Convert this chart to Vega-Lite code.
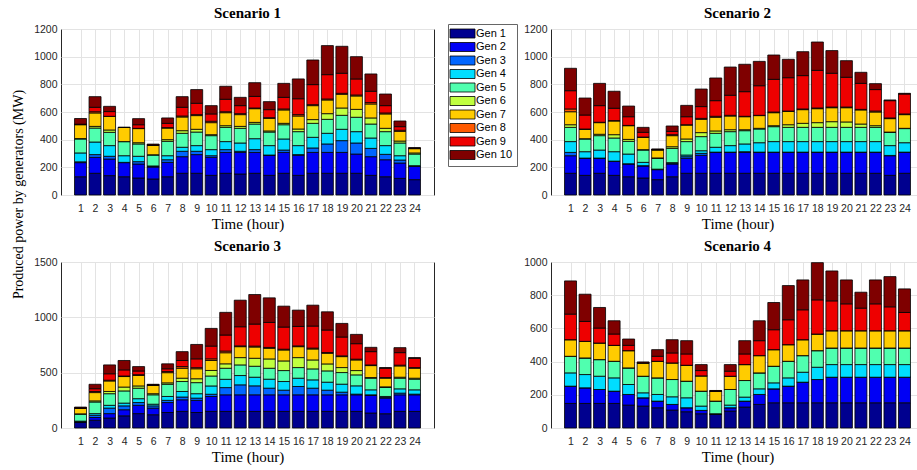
{
"$schema":"https://vega.github.io/schema/vega-lite/v6.json",
"padding":{"left":10,"top":5,"right":0,"bottom":0},
"background":"white",
"datasets":{
"gens":[{"key":"g1","gen":"Gen 1","idx":1},{"key":"g2","gen":"Gen 2","idx":2},{"key":"g3","gen":"Gen 3","idx":3},{"key":"g4","gen":"Gen 4","idx":4},{"key":"g5","gen":"Gen 5","idx":5},{"key":"g6","gen":"Gen 6","idx":6},{"key":"g7","gen":"Gen 7","idx":7},{"key":"g8","gen":"Gen 8","idx":8},{"key":"g9","gen":"Gen 9","idx":9},{"key":"g10","gen":"Gen 10","idx":10}],
"main":[
{"s":1,"h":1,"g1":132,"g2":102,"g3":6,"g4":64,"g5":101,"g6":3,"g7":100,"g8":2,"g9":2,"g10":41},
{"s":1,"h":2,"g1":157,"g2":115,"g3":20,"g4":91,"g5":101,"g6":12,"g7":97,"g8":9,"g9":32,"g10":77},
{"s":1,"h":3,"g1":140,"g2":120,"g3":20,"g4":77,"g5":96,"g6":17,"g7":99,"g8":0,"g9":34,"g10":38},
{"s":1,"h":4,"g1":132,"g2":102,"g3":2,"g4":48,"g5":102,"g6":0,"g7":102,"g8":0,"g9":0,"g10":2},
{"s":1,"h":5,"g1":123,"g2":101,"g3":17,"g4":39,"g5":89,"g6":9,"g7":102,"g8":2,"g9":26,"g10":44},
{"s":1,"h":6,"g1":116,"g2":86,"g3":6,"g4":2,"g5":79,"g6":2,"g7":68,"g8":2,"g9":1,"g10":6},
{"s":1,"h":7,"g1":132,"g2":104,"g3":19,"g4":29,"g5":104,"g6":12,"g7":84,"g8":3,"g9":31,"g10":39},
{"s":1,"h":8,"g1":157,"g2":120,"g3":39,"g4":29,"g5":101,"g6":19,"g7":99,"g8":7,"g9":63,"g10":77},
{"s":1,"h":9,"g1":157,"g2":135,"g3":24,"g4":41,"g5":98,"g6":20,"g7":99,"g8":7,"g9":82,"g10":99},
{"s":1,"h":10,"g1":142,"g2":130,"g3":12,"g4":44,"g5":101,"g6":7,"g7":87,"g8":10,"g9":53,"g10":60},
{"s":1,"h":11,"g1":157,"g2":151,"g3":20,"g4":58,"g5":103,"g6":12,"g7":94,"g8":7,"g9":90,"g10":94},
{"s":1,"h":12,"g1":152,"g2":156,"g3":8,"g4":60,"g5":106,"g6":14,"g7":85,"g8":7,"g9":58,"g10":60},
{"s":1,"h":13,"g1":157,"g2":151,"g3":20,"g4":79,"g5":106,"g6":12,"g7":99,"g8":5,"g9":84,"g10":99},
{"s":1,"h":14,"g1":142,"g2":145,"g3":2,"g4":68,"g5":98,"g6":8,"g7":91,"g8":5,"g9":58,"g10":58},
{"s":1,"h":15,"g1":157,"g2":151,"g3":17,"g4":80,"g5":103,"g6":10,"g7":97,"g8":7,"g9":84,"g10":101},
{"s":1,"h":16,"g1":142,"g2":145,"g3":5,"g4":65,"g5":101,"g6":19,"g7":94,"g8":10,"g9":115,"g10":143},
{"s":1,"h":17,"g1":157,"g2":151,"g3":32,"g4":77,"g5":101,"g6":27,"g7":101,"g8":7,"g9":145,"g10":178},
{"s":1,"h":18,"g1":157,"g2":151,"g3":61,"g4":77,"g5":101,"g6":41,"g7":99,"g8":7,"g9":176,"g10":210},
{"s":1,"h":19,"g1":157,"g2":151,"g3":85,"g4":82,"g5":101,"g6":53,"g7":99,"g8":7,"g9":145,"g10":195},
{"s":1,"h":20,"g1":157,"g2":139,"g3":80,"g4":82,"g5":104,"g6":57,"g7":97,"g8":7,"g9":116,"g10":161},
{"s":1,"h":21,"g1":142,"g2":135,"g3":60,"g4":75,"g5":101,"g6":44,"g7":101,"g8":10,"g9":82,"g10":125},
{"s":1,"h":22,"g1":132,"g2":123,"g3":39,"g4":63,"g5":101,"g6":24,"g7":104,"g8":7,"g9":53,"g10":84},
{"s":1,"h":23,"g1":120,"g2":111,"g3":22,"g4":31,"g5":92,"g6":14,"g7":70,"g8":8,"g9":26,"g10":41},
{"s":1,"h":24,"g1":111,"g2":96,"g3":1,"g4":4,"g5":84,"g6":8,"g7":31,"g8":2,"g9":2,"g10":3},
{"s":2,"h":1,"g1":157,"g2":127,"g3":24,"g4":78,"g5":103,"g6":19,"g7":94,"g8":20,"g9":132,"g10":162},
{"s":2,"h":2,"g1":142,"g2":123,"g3":2,"g4":46,"g5":92,"g6":2,"g7":68,"g8":2,"g9":101,"g10":123},
{"s":2,"h":3,"g1":157,"g2":108,"g3":2,"g4":58,"g5":104,"g6":10,"g7":84,"g8":3,"g9":120,"g10":161},
{"s":2,"h":4,"g1":142,"g2":101,"g3":2,"g4":68,"g5":99,"g6":24,"g7":99,"g8":3,"g9":89,"g10":123},
{"s":2,"h":5,"g1":132,"g2":92,"g3":2,"g4":70,"g5":92,"g6":14,"g7":99,"g8":2,"g9":63,"g10":77},
{"s":2,"h":6,"g1":123,"g2":87,"g3":2,"g4":24,"g5":89,"g6":3,"g7":89,"g8":2,"g9":34,"g10":36},
{"s":2,"h":7,"g1":111,"g2":72,"g3":2,"g4":2,"g5":78,"g6":3,"g7":57,"g8":2,"g9":2,"g10":4},
{"s":2,"h":8,"g1":132,"g2":92,"g3":5,"g4":5,"g5":103,"g6":12,"g7":80,"g8":7,"g9":24,"g10":39},
{"s":2,"h":9,"g1":157,"g2":108,"g3":12,"g4":12,"g5":97,"g6":19,"g7":101,"g8":2,"g9":58,"g10":82},
{"s":2,"h":10,"g1":157,"g2":130,"g3":14,"g4":19,"g5":102,"g6":29,"g7":96,"g8":7,"g9":85,"g10":127},
{"s":2,"h":11,"g1":157,"g2":151,"g3":2,"g4":35,"g5":101,"g6":17,"g7":99,"g8":7,"g9":113,"g10":164},
{"s":2,"h":12,"g1":157,"g2":151,"g3":2,"g4":47,"g5":101,"g6":14,"g7":99,"g8":5,"g9":145,"g10":204},
{"s":2,"h":13,"g1":157,"g2":151,"g3":5,"g4":56,"g5":96,"g6":7,"g7":94,"g8":3,"g9":178,"g10":198},
{"s":2,"h":14,"g1":157,"g2":151,"g3":2,"g4":68,"g5":99,"g6":5,"g7":92,"g8":2,"g9":214,"g10":176},
{"s":2,"h":15,"g1":157,"g2":151,"g3":2,"g4":76,"g5":108,"g6":7,"g7":94,"g8":5,"g9":236,"g10":176},
{"s":2,"h":16,"g1":157,"g2":151,"g3":2,"g4":76,"g5":103,"g6":19,"g7":97,"g8":2,"g9":241,"g10":133},
{"s":2,"h":17,"g1":157,"g2":151,"g3":2,"g4":76,"g5":103,"g6":29,"g7":99,"g8":5,"g9":241,"g10":173},
{"s":2,"h":18,"g1":157,"g2":151,"g3":2,"g4":76,"g5":103,"g6":34,"g7":101,"g8":5,"g9":272,"g10":205},
{"s":2,"h":19,"g1":157,"g2":151,"g3":2,"g4":76,"g5":103,"g6":41,"g7":101,"g8":5,"g9":244,"g10":164},
{"s":2,"h":20,"g1":157,"g2":151,"g3":2,"g4":76,"g5":103,"g6":39,"g7":103,"g8":5,"g9":215,"g10":120},
{"s":2,"h":21,"g1":157,"g2":151,"g3":2,"g4":76,"g5":103,"g6":24,"g7":102,"g8":4,"g9":188,"g10":80},
{"s":2,"h":22,"g1":157,"g2":151,"g3":2,"g4":76,"g5":103,"g6":12,"g7":99,"g8":7,"g9":155,"g10":43},
{"s":2,"h":23,"g1":142,"g2":142,"g3":2,"g4":71,"g5":96,"g6":2,"g7":97,"g8":5,"g9":125,"g10":5},
{"s":2,"h":24,"g1":157,"g2":151,"g3":2,"g4":68,"g5":102,"g6":2,"g7":99,"g8":5,"g9":144,"g10":5},
{"s":3,"h":1,"g1":50,"g2":5,"g3":3,"g4":4,"g5":63,"g6":3,"g7":50,"g8":2,"g9":2,"g10":7},
{"s":3,"h":2,"g1":70,"g2":25,"g3":20,"g4":15,"g5":105,"g6":10,"g7":75,"g8":10,"g9":25,"g10":40},
{"s":3,"h":3,"g1":90,"g2":40,"g3":50,"g4":25,"g5":105,"g6":20,"g7":95,"g8":7,"g9":58,"g10":80},
{"s":3,"h":4,"g1":110,"g2":55,"g3":35,"g4":25,"g5":110,"g6":35,"g7":95,"g8":5,"g9":55,"g10":85},
{"s":3,"h":5,"g1":130,"g2":75,"g3":25,"g4":35,"g5":95,"g6":20,"g7":95,"g8":7,"g9":33,"g10":40},
{"s":3,"h":6,"g1":120,"g2":60,"g3":20,"g4":15,"g5":85,"g6":10,"g7":75,"g8":3,"g9":2,"g10":5},
{"s":3,"h":7,"g1":140,"g2":90,"g3":20,"g4":35,"g5":110,"g6":13,"g7":92,"g8":10,"g9":25,"g10":45},
{"s":3,"h":8,"g1":150,"g2":105,"g3":25,"g4":50,"g5":90,"g6":30,"g7":90,"g8":15,"g9":55,"g10":80},
{"s":3,"h":9,"g1":140,"g2":110,"g3":20,"g4":40,"g5":100,"g6":35,"g7":90,"g8":10,"g9":80,"g10":130},
{"s":3,"h":10,"g1":150,"g2":135,"g3":20,"g4":75,"g5":90,"g6":50,"g7":90,"g8":15,"g9":115,"g10":160},
{"s":3,"h":11,"g1":150,"g2":150,"g3":65,"g4":75,"g5":100,"g6":40,"g7":100,"g8":15,"g9":145,"g10":205},
{"s":3,"h":12,"g1":150,"g2":150,"g3":90,"g4":84,"g5":96,"g6":66,"g7":99,"g8":7,"g9":173,"g10":240},
{"s":3,"h":13,"g1":150,"g2":150,"g3":81,"g4":78,"g5":99,"g6":72,"g7":102,"g8":8,"g9":199,"g10":267},
{"s":3,"h":14,"g1":150,"g2":150,"g3":60,"g4":81,"g5":99,"g6":84,"g7":96,"g8":8,"g9":226,"g10":222},
{"s":3,"h":15,"g1":150,"g2":150,"g3":42,"g4":78,"g5":99,"g6":87,"g7":99,"g8":7,"g9":200,"g10":189},
{"s":3,"h":16,"g1":150,"g2":150,"g3":75,"g4":75,"g5":96,"g6":90,"g7":99,"g8":7,"g9":176,"g10":147},
{"s":3,"h":17,"g1":150,"g2":150,"g3":60,"g4":75,"g5":99,"g6":81,"g7":99,"g8":8,"g9":199,"g10":189},
{"s":3,"h":18,"g1":150,"g2":150,"g3":42,"g4":72,"g5":102,"g6":63,"g7":96,"g8":7,"g9":203,"g10":165},
{"s":3,"h":19,"g1":150,"g2":150,"g3":24,"g4":72,"g5":105,"g6":45,"g7":99,"g8":7,"g9":170,"g10":123},
{"s":3,"h":20,"g1":150,"g2":150,"g3":6,"g4":75,"g5":99,"g6":39,"g7":96,"g8":7,"g9":140,"g10":84},
{"s":3,"h":21,"g1":135,"g2":159,"g3":6,"g4":45,"g5":105,"g6":6,"g7":108,"g8":6,"g9":120,"g10":39},
{"s":3,"h":22,"g1":129,"g2":141,"g3":6,"g4":9,"g5":81,"g6":6,"g7":78,"g8":6,"g9":84,"g10":6},
{"s":3,"h":23,"g1":150,"g2":150,"g3":15,"g4":39,"g5":96,"g6":9,"g7":102,"g8":7,"g9":113,"g10":45},
{"s":3,"h":24,"g1":150,"g2":150,"g3":6,"g4":39,"g5":96,"g6":9,"g7":90,"g8":6,"g9":84,"g10":6},
{"s":4,"h":1,"g1":148,"g2":104,"g3":0,"g4":80,"g5":100,"g6":0,"g7":100,"g8":0,"g9":154,"g10":200},
{"s":4,"h":2,"g1":148,"g2":94,"g3":0,"g4":80,"g5":100,"g6":0,"g7":100,"g8":0,"g9":120,"g10":164},
{"s":4,"h":3,"g1":148,"g2":84,"g3":0,"g4":80,"g5":100,"g6":0,"g7":100,"g8":0,"g9":90,"g10":124},
{"s":4,"h":4,"g1":148,"g2":74,"g3":0,"g4":80,"g5":100,"g6":0,"g7":96,"g8":0,"g9":68,"g10":80},
{"s":4,"h":5,"g1":138,"g2":64,"g3":0,"g4":60,"g5":100,"g6":0,"g7":104,"g8":0,"g9":32,"g10":38},
{"s":4,"h":6,"g1":132,"g2":50,"g3":0,"g4":30,"g5":100,"g6":0,"g7":80,"g8":0,"g9":0,"g10":6},
{"s":4,"h":7,"g1":122,"g2":40,"g3":0,"g4":40,"g5":100,"g6":0,"g7":100,"g8":0,"g9":30,"g10":40},
{"s":4,"h":8,"g1":108,"g2":34,"g3":0,"g4":46,"g5":104,"g6":0,"g7":100,"g8":0,"g9":60,"g10":80},
{"s":4,"h":9,"g1":98,"g2":24,"g3":0,"g4":60,"g5":100,"g6":0,"g7":96,"g8":0,"g9":68,"g10":80},
{"s":4,"h":10,"g1":86,"g2":20,"g3":0,"g4":26,"g5":90,"g6":0,"g7":92,"g8":0,"g9":32,"g10":36},
{"s":4,"h":11,"g1":82,"g2":2,"g3":0,"g4":2,"g5":76,"g6":0,"g7":60,"g8":0,"g9":0,"g10":4},
{"s":4,"h":12,"g1":102,"g2":20,"g3":0,"g4":16,"g5":94,"g6":0,"g7":80,"g8":0,"g9":30,"g10":40},
{"s":4,"h":13,"g1":126,"g2":36,"g3":0,"g4":24,"g5":100,"g6":0,"g7":96,"g8":0,"g9":64,"g10":80},
{"s":4,"h":14,"g1":142,"g2":60,"g3":0,"g4":34,"g5":96,"g6":0,"g7":104,"g8":0,"g9":90,"g10":120},
{"s":4,"h":15,"g1":152,"g2":84,"g3":0,"g4":36,"g5":100,"g6":0,"g7":100,"g8":0,"g9":120,"g10":164},
{"s":4,"h":16,"g1":152,"g2":100,"g3":0,"g4":50,"g5":100,"g6":0,"g7":100,"g8":0,"g9":150,"g10":206},
{"s":4,"h":17,"g1":152,"g2":124,"g3":0,"g4":60,"g5":100,"g6":0,"g7":96,"g8":0,"g9":180,"g10":180},
{"s":4,"h":18,"g1":152,"g2":140,"g3":0,"g4":74,"g5":100,"g6":0,"g7":100,"g8":0,"g9":206,"g10":224},
{"s":4,"h":19,"g1":152,"g2":154,"g3":0,"g4":76,"g5":100,"g6":0,"g7":104,"g8":0,"g9":180,"g10":180},
{"s":4,"h":20,"g1":152,"g2":154,"g3":0,"g4":76,"g5":100,"g6":0,"g7":104,"g8":0,"g9":162,"g10":144},
{"s":4,"h":21,"g1":152,"g2":154,"g3":0,"g4":76,"g5":100,"g6":0,"g7":104,"g8":0,"g9":136,"g10":96},
{"s":4,"h":22,"g1":152,"g2":154,"g3":0,"g4":76,"g5":100,"g6":0,"g7":104,"g8":0,"g9":162,"g10":144},
{"s":4,"h":23,"g1":152,"g2":154,"g3":0,"g4":76,"g5":100,"g6":0,"g7":104,"g8":0,"g9":144,"g10":182},
{"s":4,"h":24,"g1":152,"g2":154,"g3":0,"g4":76,"g5":100,"g6":0,"g7":104,"g8":0,"g9":110,"g10":142}
]},
"data":{"name":"main"},
"transform":[
{"fold":["g1","g2","g3","g4","g5","g6","g7","g8","g9","g10"],"as":["key","v"]},
{"lookup":"key","from":{"data":{"name":"gens"},"key":"key","fields":["gen","idx"]}}
],
"columns":2,
"bounds":"flush",
"spacing":{"row":67,"column":117},
"concat":[
{"width":373,"height":166,"title":"Scenario 1",
"transform":[{"filter":"datum.s==1"}],
"mark":{"type":"bar","size":12,"stroke":"black","strokeWidth":0.8},
"encoding":{
"x":{"field":"h","type":"quantitative","scale":{"domain":[0,25],"nice":false,"zero":false},"axis":{"values":[1,2,3,4,5,6,7,8,9,10,11,12,13,14,15,16,17,18,19,20,21,22,23,24],"title":"Time (hour)"}},
"y":{"field":"v","type":"quantitative","stack":"zero","scale":{"domain":[0,1200],"nice":false},"axis":{"values":[0,200,400,600,800,1000,1200],"format":"d","title":"Produced power by generators (MW)","titleFontSize":14,"titleX":-36,"titleY":165,"titleAnchor":"middle"}},
"color":{"field":"gen","type":"nominal","scale":{"domain":["Gen 1","Gen 2","Gen 3","Gen 4","Gen 5","Gen 6","Gen 7","Gen 8","Gen 9","Gen 10"],"range":["#00008F","#0000F5","#0066FF","#00DDFF","#50FFAF","#C0FF40","#FFCC00","#FF5A00","#EE0000","#7F0000"]},
"legend":{"orient":"none","legendX":387,"legendY":-5,"title":null,"symbolType":"M-2.5,-0.9H2.5V0.9H-2.5Z","symbolSize":100,"symbolOffset":5,"symbolStrokeColor":"black","symbolStrokeWidth":0.8,"symbolFillOpacity":1,"labelFont":"Liberation Sans","labelFontSize":11,"labelColor":"black","labelOffset":8,"rowPadding":0.5,"padding":4,"strokeColor":"#666","fillColor":"white"}},
"order":{"field":"idx","type":"quantitative"}}},
{"width":373,"height":166,"title":"Scenario 2",
"transform":[{"filter":"datum.s==2"}],
"mark":{"type":"bar","size":12,"stroke":"black","strokeWidth":0.8},
"encoding":{
"x":{"field":"h","type":"quantitative","scale":{"domain":[0,25],"nice":false,"zero":false},"axis":{"values":[1,2,3,4,5,6,7,8,9,10,11,12,13,14,15,16,17,18,19,20,21,22,23,24],"title":"Time (hour)"}},
"y":{"field":"v","type":"quantitative","stack":"zero","scale":{"domain":[0,1200],"nice":false},"axis":{"values":[0,200,400,600,800,1000,1200],"format":"d","title":null}},
"color":{"field":"gen","type":"nominal"},
"order":{"field":"idx","type":"quantitative"}}},
{"width":373,"height":166,"title":"Scenario 3",
"transform":[{"filter":"datum.s==3"}],
"mark":{"type":"bar","size":12,"stroke":"black","strokeWidth":0.8},
"encoding":{
"x":{"field":"h","type":"quantitative","scale":{"domain":[0,25],"nice":false,"zero":false},"axis":{"values":[1,2,3,4,5,6,7,8,9,10,11,12,13,14,15,16,17,18,19,20,21,22,23,24],"title":"Time (hour)"}},
"y":{"field":"v","type":"quantitative","stack":"zero","scale":{"domain":[0,1500],"nice":false},"axis":{"values":[0,500,1000,1500],"format":"d","title":null}},
"color":{"field":"gen","type":"nominal"},
"order":{"field":"idx","type":"quantitative"}}},
{"width":373,"height":166,"title":"Scenario 4",
"transform":[{"filter":"datum.s==4"}],
"mark":{"type":"bar","size":12,"stroke":"black","strokeWidth":0.8},
"encoding":{
"x":{"field":"h","type":"quantitative","scale":{"domain":[0,25],"nice":false,"zero":false},"axis":{"values":[1,2,3,4,5,6,7,8,9,10,11,12,13,14,15,16,17,18,19,20,21,22,23,24],"title":"Time (hour)"}},
"y":{"field":"v","type":"quantitative","stack":"zero","scale":{"domain":[0,1000],"nice":false},"axis":{"values":[0,200,400,600,800,1000],"format":"d","title":null}},
"color":{"field":"gen","type":"nominal"},
"order":{"field":"idx","type":"quantitative"}}}
],
"config":{
"view":{"stroke":"#262626","strokeWidth":1},
"title":{"font":"Liberation Serif","fontSize":15,"fontWeight":"bold","color":"black","offset":3,"anchor":"middle","frame":"group"},
"axis":{"labelFont":"Liberation Sans","labelFontSize":10.5,"labelColor":"#262626","titleFont":"Liberation Serif","titleFontSize":15,"titleFontWeight":"normal","titleColor":"black","grid":true,"gridColor":"#e3e3e3","ticks":false,"domain":false},
"axisX":{"labelPadding":8,"titlePadding":3,"labelAngle":0},
"axisY":{"labelPadding":4},
"legend":{"symbolStrokeColor":"black"}
}
}
